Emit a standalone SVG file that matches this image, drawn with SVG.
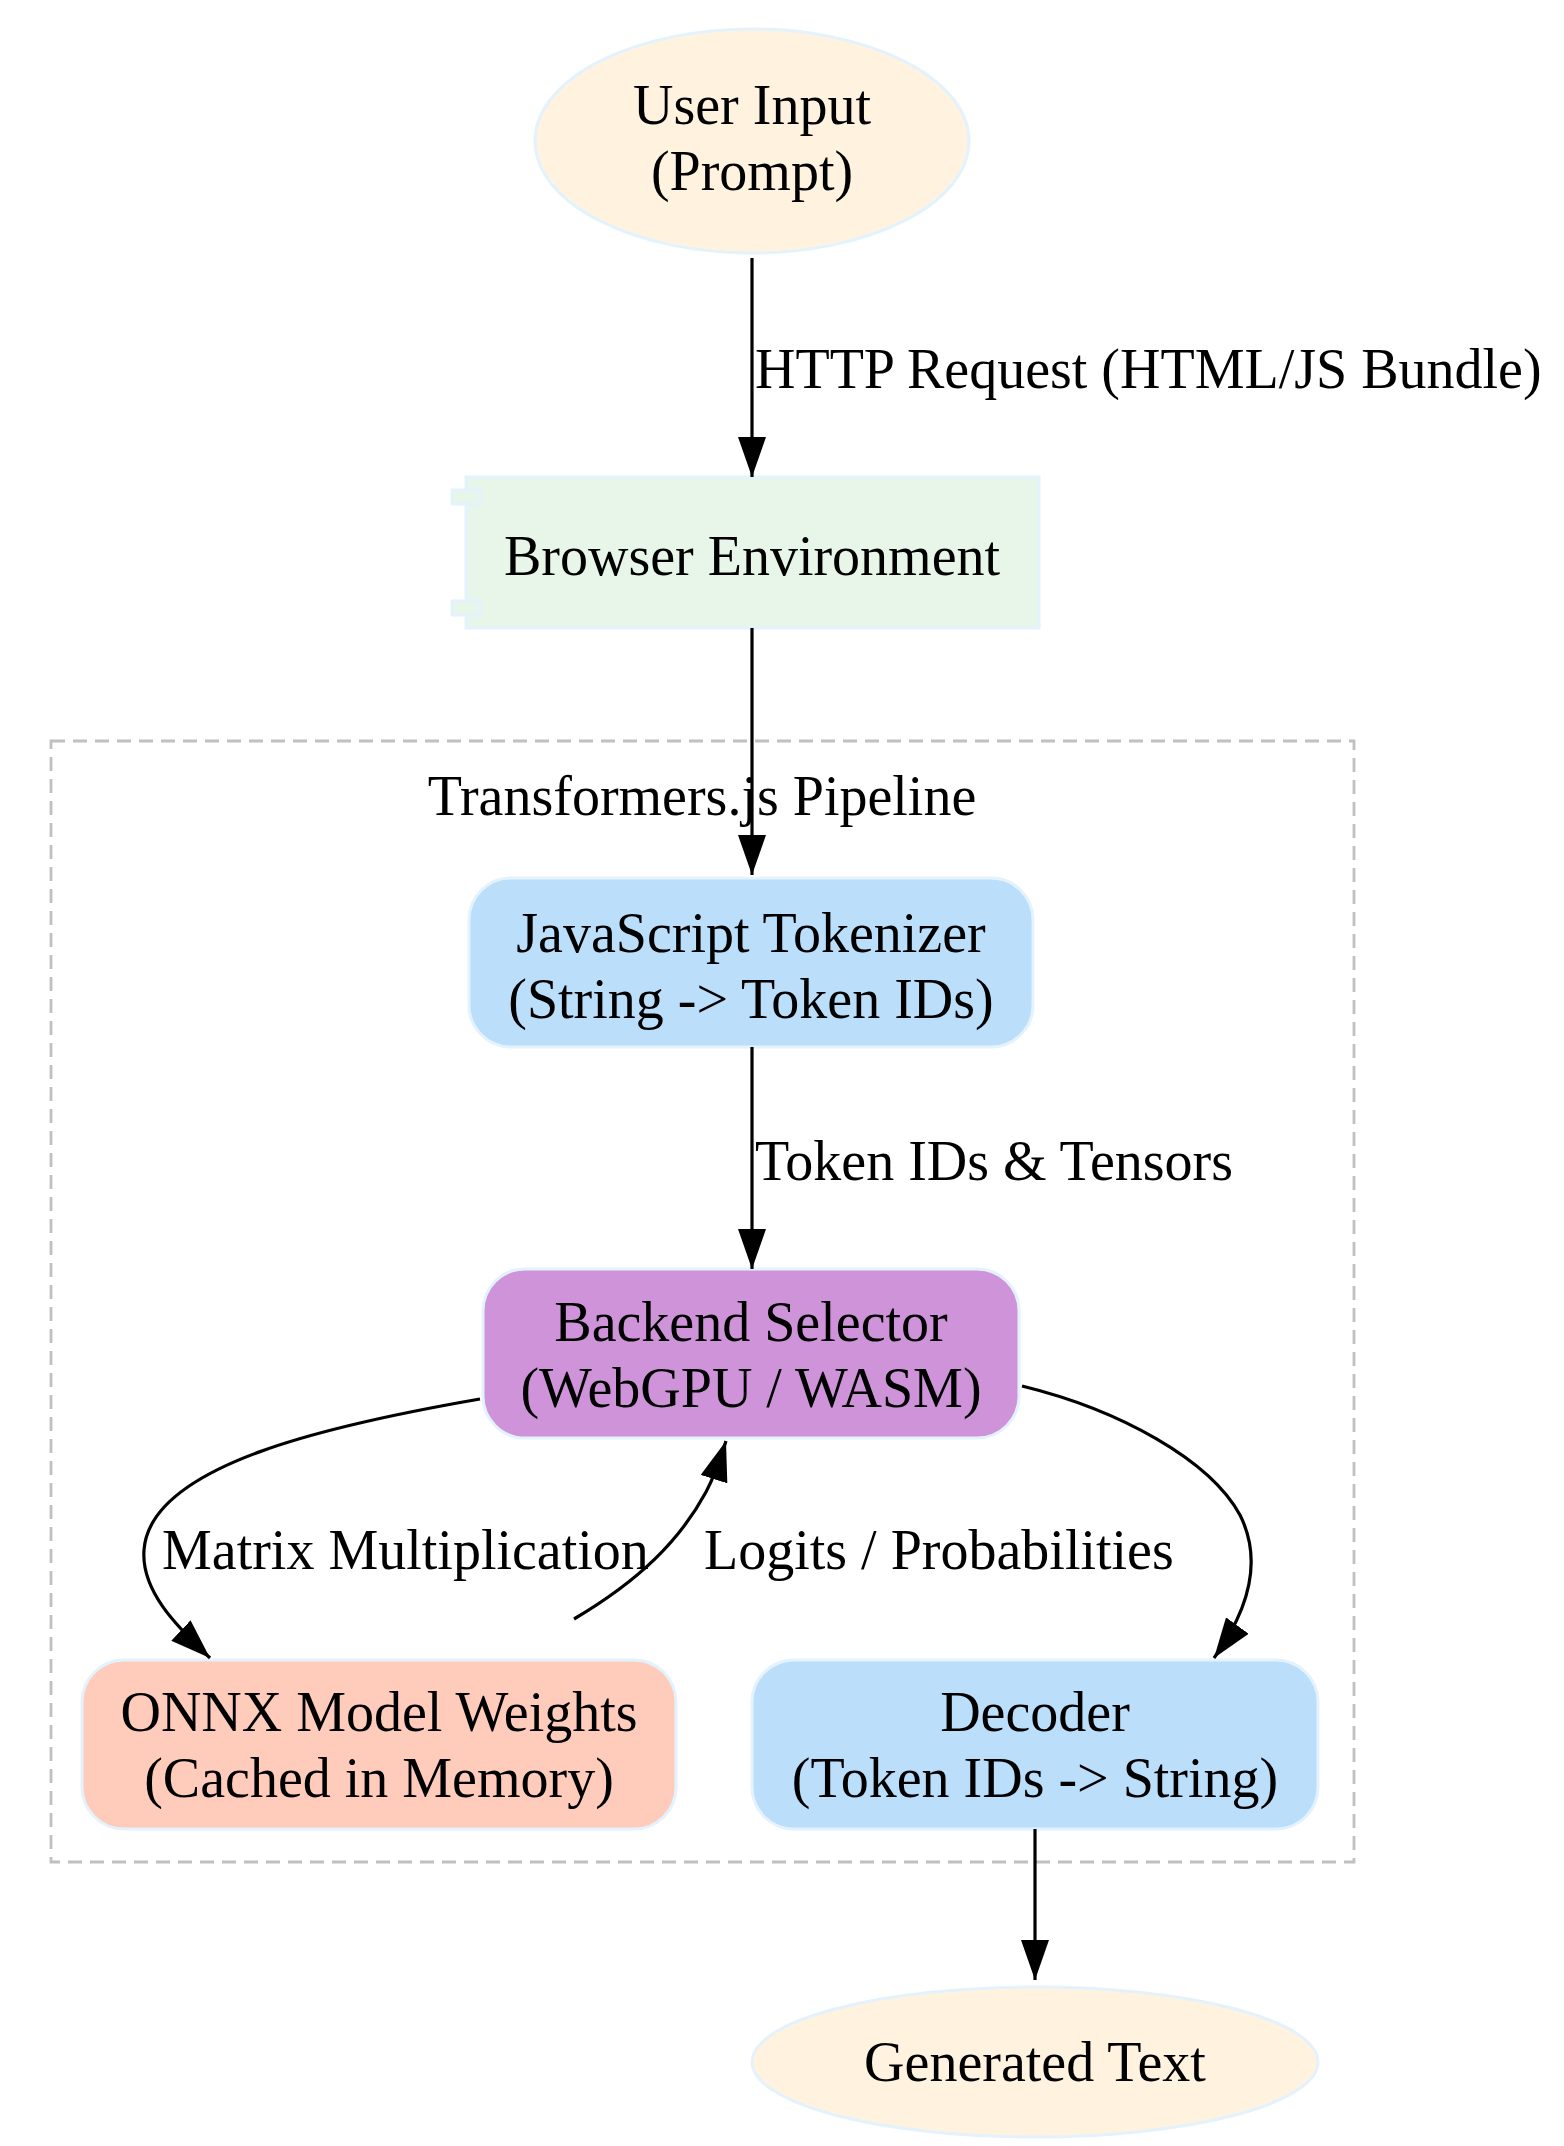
<svg xmlns="http://www.w3.org/2000/svg" width="1564" height="2146" viewBox="0 0 1564 2146">
<style>
text{font-family:"Liberation Serif","Times New Roman",serif;font-size:56px;fill:#000;text-anchor:middle}
.lbl{text-anchor:start}
.n{stroke:#e3f2fd;stroke-width:3}
.e{fill:none;stroke:#000;stroke-width:3.2}
</style>
<defs><marker id="a" viewBox="0 0 10 7" refX="10" refY="3.5" markerWidth="40" markerHeight="28" markerUnits="userSpaceOnUse" orient="auto"><path d="M0,0L10,3.5L0,7z" fill="#000"/></marker></defs>
<rect width="1564" height="2146" fill="#fff"/>
<g id="cluster"><rect x="51" y="741" width="1303" height="1121" fill="none" stroke="#c0c0c0" stroke-width="2.8" stroke-dasharray="14,8"/><text x="702" y="815">Transformers.js Pipeline</text></g>
<g id="user"><ellipse class="n" cx="752" cy="141" rx="217" ry="112" fill="#fff3e0"/><text x="752" y="124">User Input</text><text x="752" y="190">(Prompt)</text></g>
<g id="browser"><rect class="n" x="466" y="477" width="573" height="151" fill="#e8f5e9"/><rect class="n" x="452" y="490" width="28" height="14" fill="#e8f5e9"/><rect class="n" x="452" y="601" width="28" height="14" fill="#e8f5e9"/><text x="752" y="575">Browser Environment</text></g>
<g id="tok"><rect class="n" x="469" y="878" width="564" height="169" rx="42" fill="#bbdefb"/><text x="751" y="952">JavaScript Tokenizer</text><text x="751" y="1018">(String -&gt; Token IDs)</text></g>
<g id="backend"><rect class="n" x="483" y="1269" width="536" height="169" rx="42" fill="#ce93d8"/><text x="751" y="1341">Backend Selector</text><text x="751" y="1407">(WebGPU / WASM)</text></g>
<g id="onnx"><rect class="n" x="82" y="1660" width="594" height="169" rx="42" fill="#ffccbc"/><text x="379" y="1731">ONNX Model Weights</text><text x="379" y="1797">(Cached in Memory)</text></g>
<g id="decoder"><rect class="n" x="752" y="1660" width="566" height="169" rx="42" fill="#bbdefb"/><text x="1035" y="1731">Decoder</text><text x="1035" y="1797">(Token IDs -&gt; String)</text></g>
<g id="gen"><ellipse class="n" cx="1035" cy="2062" rx="283" ry="75" fill="#fff3e0"/><text x="1035" y="2081">Generated Text</text></g>
<g id="edges">
<path class="e" d="M752,258V477" marker-end="url(#a)"/>
<text class="lbl" x="755" y="388">HTTP Request (HTML/JS Bundle)</text>
<path class="e" d="M752,628V875" marker-end="url(#a)"/>
<path class="e" d="M752,1047V1269" marker-end="url(#a)"/>
<text class="lbl" x="755" y="1180">Token IDs &amp; Tensors</text>
<path class="e" d="M480,1399C330,1425 150,1465 144,1550C141,1590 175,1625 210,1658" marker-end="url(#a)"/>
<text class="lbl" x="162" y="1569">Matrix Multiplication</text>
<path class="e" d="M574,1619C640,1580 680,1540 706,1492C714,1477 720,1460 726,1441" marker-end="url(#a)"/>
<text class="lbl" x="704" y="1569">Logits / Probabilities</text>
<path class="e" d="M1022,1386C1120,1410 1210,1460 1240,1515C1265,1565 1245,1615 1214,1658" marker-end="url(#a)"/>
<path class="e" d="M1035,1829V1980" marker-end="url(#a)"/>
</g>
</svg>
